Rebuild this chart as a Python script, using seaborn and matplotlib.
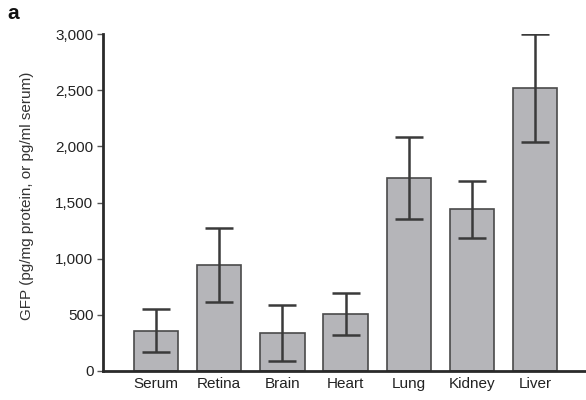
import matplotlib
matplotlib.use("Agg")
import matplotlib.pyplot as plt
import seaborn as sns
import numpy as np
import pandas as pd

categories = ["Serum", "Retina", "Brain", "Heart", "Lung", "Kidney", "Liver"]
values = [360, 940, 340, 505, 1715, 1440, 2520]
errors = [190, 330, 250, 187, 365, 255, 478]
yticks = [0, 500, 1000, 1500, 2000, 2500, 3000]
ytick_labels = ["0", "500", "1,000", "1,500", "2,000", "2,500", "3,000"]

sns.set_theme(style="white")
plt.rcParams['font.family'] = ['Liberation Sans', 'DejaVu Sans']

df = pd.DataFrame({"tissue": categories, "gfp": values})

fig = plt.figure(figsize=(5.86, 4.0), dpi=100)
ax = fig.add_axes([0.176, 0.0725, 0.822, 0.8425])

sns.barplot(data=df, x="tissue", y="gfp", ax=ax, color="#b5b5b9",
            saturation=1, width=0.7, edgecolor="#4a4a4a", linewidth=1.2,
            errorbar=None)
ax.errorbar(np.arange(len(categories)), values, yerr=errors, fmt="none",
            ecolor="#3a3a3a", elinewidth=1.8, capsize=10, capthick=1.8)

ax.set_xlim(-0.84, 6.79)
ax.set_ylim(0, 3000)
ax.set_yticks(yticks)
ax.set_yticklabels(ytick_labels, fontsize=11, color="#222222")
ax.tick_params(axis="x", labelsize=11, colors="#222222", length=0, pad=4)
ax.tick_params(axis="y", length=4, width=1, color="#555555", left=True, pad=3)
ax.set_xlabel("")
ax.set_ylabel("GFP (pg/mg protein, or pg/ml serum)", fontsize=11, color="#333333")
ax.yaxis.set_label_coords(-0.143, 0.52)

for s in ["top", "right"]:
    ax.spines[s].set_visible(False)
for s in ["left", "bottom"]:
    ax.spines[s].set_color("#2a2a2a")
    ax.spines[s].set_linewidth(2)

fig.text(0.012, 0.952, "a", fontsize=15, fontweight="bold", color="#111111")

fig.savefig("out.png", dpi=100)
